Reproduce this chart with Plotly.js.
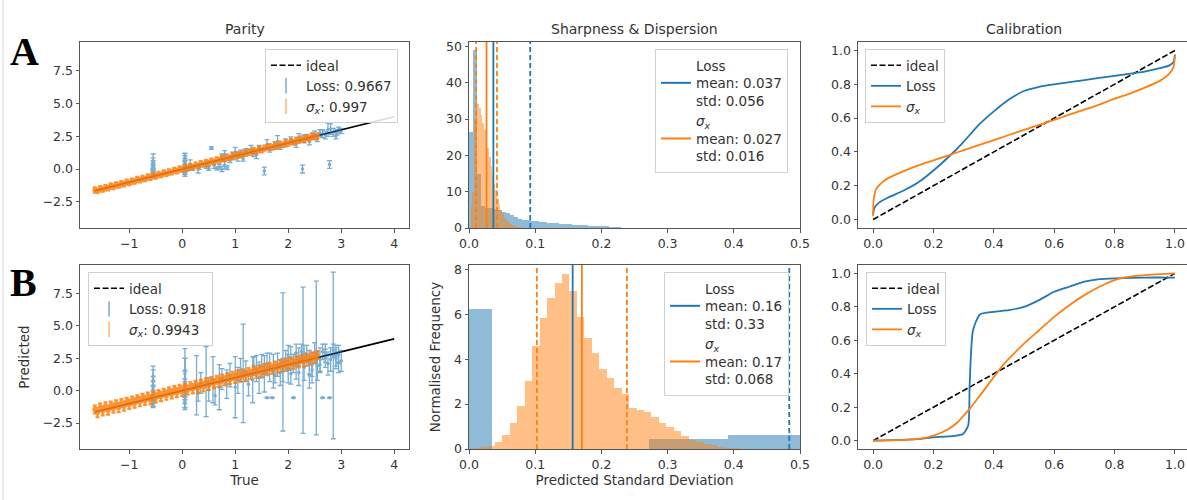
<!DOCTYPE html>
<html>
<head>
<meta charset="utf-8">
<script src="https://cdn.plot.ly/plotly-3.0.1.min.js"></script>
<style>html,body{margin:0;padding:0;background:#fff;}#chart{width:1187px;height:500px;}</style>
</head>
<body>
<div id="chart"></div>
<script>
// ---------------- DATA ----------------
const panelTitles = ["Parity", "Sharpness & Dispersion", "Calibration"];
const rowLabels = ["A", "B"];
const idealRange = [-1.65, 4];
const calibIdeal = [0, 1];

// Parity A - Loss (blue)
const aLossTrue = [-0.55,-0.55,-0.55,-0.55,-0.55,-0.55,-0.55,-0.55,-0.55,-0.55,
  0.05,0.05,0.05,0.05,0.05,0.05,0.05,0.05,0.05,0.05,
  0.3,0.32,0.45,0.5,0.55,0.6,0.65,0.7,0.75,0.8,0.85,0.75,0.8,0.9,0.95,1.0,1.05,1.1,1.15,1.2,
  1.3,1.35,1.45,1.55,1.6,1.65,1.75,1.8,1.85,1.95,2.05,2.15,2.27,2.3,2.4,2.5,2.55,2.65,2.75,2.78,
  2.85,2.9,2.95,3.0,2.2,1.4,0.15,0.2,2.6,2.7,2.8,2.92,2.45,2.35];
const aLossPred = [-0.5,-0.45,-0.3,-0.15,0.0,0.15,0.3,0.45,0.6,0.1,
  -0.4,-0.2,0.0,0.15,0.3,0.5,0.7,0.9,-0.1,0.6,
  0.0,0.1,0.2,0.05,1.6,0.3,0.05,0.15,0.0,0.3,0.1,0.9,1.1,0.7,1.0,1.3,0.9,1.2,0.8,1.35,
  1.5,1.2,1.6,-0.15,1.9,1.5,1.8,2.1,1.7,2.0,2.2,1.9,0.0,2.3,2.1,2.6,2.3,2.7,3.0,0.35,
  2.8,2.55,3.0,2.9,2.4,1.1,0.3,0.1,2.75,2.6,3.05,2.8,2.5,2.45];
const aLossErr = [0.12,0.2,0.2,0.25,0.3,0.3,0.35,0.4,0.55,0.2,
  0.15,0.2,0.2,0.25,0.3,0.3,0.35,0.3,0.2,0.6,
  0.3,0.15,0.15,0.15,0.1,0.25,0.12,0.2,0.2,0.3,0.15,0.25,0.3,0.2,0.3,0.35,0.3,0.25,0.2,0.2,
  0.3,0.25,0.2,0.3,0.35,0.2,0.3,0.45,0.2,0.3,0.25,0.25,0.3,0.3,0.25,0.3,0.2,0.3,0.5,0.3,
  0.3,0.25,0.2,0.2,0.3,0.3,0.4,0.2,0.25,0.3,0.4,0.2,0.25,0.2];

// Parity A - sigma_x (orange)
const aSigTrue = [-1.65,-1.6,-1.55,-1.5,-1.45,-1.4,-1.35,-1.3,-1.25,-1.2,-1.15,-1.1,-1.05,-1.0,-0.95,-0.9,-0.85,-0.8,-0.75,-0.7,
  -0.65,-0.6,-0.55,-0.5,-0.45,-0.4,-0.35,-0.3,-0.25,-0.2,-0.15,-0.1,-0.05,0.0,0.05,0.1,0.15,0.2,0.25,0.3,
  0.35,0.4,0.45,0.5,0.55,0.6,0.65,0.7,0.75,0.8,0.85,0.9,0.95,1.0,1.05,1.1,1.15,1.2,1.25,1.3,1.35,1.4,1.45,1.5,1.55,
  1.6,1.65,1.7,1.75,1.8,1.85,1.9,1.95,2.0,2.05,2.1,2.15,2.2,2.25,2.3,2.35,2.4,2.45,2.5,2.55];
const aSigPred = [-1.6,-1.66,-1.5,-1.55,-1.42,-1.46,-1.3,-1.36,-1.22,-1.25,-1.12,-1.16,-1.0,-1.06,-0.92,-0.95,-0.8,-0.86,-0.72,-0.76,
  -0.6,-0.66,-0.5,-0.56,-0.42,-0.45,-0.3,-0.36,-0.22,-0.25,-0.1,-0.16,0.0,-0.05,0.1,0.05,0.2,0.15,0.3,0.25,
  0.4,0.35,0.5,0.45,0.6,0.55,0.7,0.66,0.8,0.76,0.9,0.86,1.0,0.96,1.1,1.06,1.2,1.16,1.3,1.26,1.4,1.36,1.5,1.44,1.6,
  1.65,1.7,1.66,1.8,1.75,1.9,1.84,2.0,1.95,2.1,2.04,2.2,2.15,2.3,2.24,2.4,2.35,2.5,2.44,2.52];
const aSigErr = [0.2,0.16,0.2,0.17,0.2,0.16,0.2,0.17,0.2,0.16,0.2,0.17,0.2,0.16,0.2,0.17,0.2,0.16,0.2,0.17,
  0.2,0.16,0.2,0.17,0.2,0.16,0.2,0.17,0.2,0.16,0.2,0.17,0.2,0.16,0.2,0.17,0.2,0.16,0.2,0.17,
  0.2,0.16,0.2,0.17,0.2,0.16,0.2,0.17,0.2,0.16,0.2,0.17,0.2,0.16,0.2,0.17,0.2,0.16,0.2,0.17,0.2,0.16,0.2,0.17,0.2,
  0.16,0.2,0.17,0.2,0.16,0.2,0.17,0.2,0.16,0.2,0.17,0.2,0.16,0.2,0.17,0.2,0.16,0.2,0.17,0.2];

// Parity B - Loss (blue)
const bLossTrue = [-0.55,-0.55,-0.55,-0.55,-0.55,-0.55,-0.55,-0.55,
  0.05,0.05,0.05,0.05,0.05,0.05,0.05,0.05,
  0.27,0.3,0.35,0.45,0.5,0.58,0.62,0.7,0.75,0.84,0.9,1.0,1.05,1.15,1.2,1.25,1.33,1.4,1.45,1.5,
  1.55,1.6,1.65,1.7,1.72,1.8,1.85,1.9,1.95,2.0,2.05,2.1,2.15,2.2,2.28,2.3,2.35,2.4,2.45,2.53,
  2.6,2.65,2.7,2.75,2.78,2.85,2.9,2.95,3.0,2.5,2.1,1.75,2.0,2.25,2.85,2.6,
  1.6,1.9,2.2,2.45,2.7,2.95,2.55,2.8,2.3,2.05,1.35,1.1,2.65,2.9,2.4,2.15];
const bLossPred = [-0.8,-0.5,-0.2,0.1,0.4,0.8,1.1,-1.0,
  -0.7,-0.3,0.1,0.5,0.9,1.3,1.6,-0.9,
  0.42,-0.2,0.6,0.7,0.1,0.85,-0.4,0.27,0.9,0.5,1.2,0.27,0.8,1.33,1.5,0.5,0.85,1.7,1.0,1.9,
  1.3,-0.55,1.8,-0.55,1.5,2.0,1.4,2.22,2.3,1.7,2.5,-0.55,1.9,2.6,2.35,1.8,2.7,2.2,1.6,2.52,
  2.4,-0.55,2.9,2.1,-0.55,2.72,2.5,2.8,2.3,2.9,2.1,1.2,2.6,3.0,3.1,2.0,
  2.1,1.6,1.4,2.0,2.5,2.2,1.9,2.4,2.9,1.3,1.9,1.6,3.0,2.7,1.2,2.9];
const bLossErr = [0.4,0.5,0.6,0.6,0.7,0.8,0.8,0.3,
  0.6,0.7,0.8,1.0,2.35,1.2,0.9,0.4,
  2.28,0.6,0.8,2.7,0.9,1.78,0.7,1.74,0.8,1.1,0.9,2.36,1.0,3.8,0.8,0.9,1.78,1.0,1.2,0.9,
  1.4,0.03,1.1,0.03,1.3,0.9,1.0,5.33,0.8,1.1,0.9,0.03,1.0,0.7,5.65,1.0,0.8,0.9,1.0,5.93,
  0.9,0.03,0.7,0.9,0.03,6.43,0.8,0.7,0.8,0.8,0.7,0.6,0.9,0.6,0.5,0.6,
  0.8,0.9,1.0,0.9,0.7,0.8,1.1,0.9,0.6,0.8,0.7,0.9,0.6,0.8,1.0,0.7];

// Parity B - sigma_x (orange)
const bSigTrue = [-1.65,-1.6,-1.55,-1.5,-1.45,-1.4,-1.35,-1.3,-1.25,-1.2,-1.15,-1.1,-1.05,-1.0,-0.95,-0.9,-0.85,-0.8,-0.75,-0.7,
  -0.65,-0.6,-0.55,-0.5,-0.45,-0.4,-0.35,-0.3,-0.25,-0.2,-0.15,-0.1,-0.05,0.0,0.05,0.1,0.15,0.2,0.25,0.3,
  0.35,0.4,0.45,0.5,0.55,0.6,0.65,0.7,0.75,0.8,0.85,0.9,0.95,1.0,1.05,1.1,1.15,1.2,1.25,1.3,1.35,1.4,1.45,1.5,1.55,
  1.6,1.65,1.7,1.75,1.8,1.85,1.9,1.95,2.0,2.05,2.1,2.15,2.2,2.25,2.3,2.35,2.4,2.45,2.5,2.55];
const bSigPred = [-1.45,-1.7,-1.3,-1.55,-1.2,-1.5,-1.15,-1.35,-1.05,-1.3,-0.95,-1.2,-0.85,-1.05,-0.75,-0.95,-0.65,-0.85,-0.55,-0.75,
  -0.45,-0.7,-0.4,-0.55,-0.25,-0.45,-0.15,-0.35,-0.05,-0.25,0.05,-0.15,0.15,-0.05,0.25,0.05,0.35,0.15,0.45,0.2,
  0.55,0.3,0.65,0.4,0.75,0.55,0.85,0.65,0.95,0.75,1.05,0.85,1.15,0.95,1.25,1.05,1.35,1.15,1.45,1.25,1.55,1.35,1.65,1.45,1.75,
  1.55,1.85,1.65,1.95,1.75,2.05,1.85,2.15,1.95,2.25,2.05,2.35,2.15,2.45,2.25,2.55,2.35,2.65,2.5,2.75];
const bSigErr = [0.3,0.35,0.3,0.35,0.3,0.35,0.3,0.35,0.3,0.35,0.3,0.35,0.3,0.35,0.3,0.35,0.3,0.35,0.3,0.35,
  0.3,0.35,0.3,0.35,0.3,0.35,0.3,0.35,0.3,0.35,0.3,0.35,0.3,0.35,0.3,0.35,0.3,0.35,0.3,0.35,
  0.3,0.35,0.3,0.35,0.3,0.35,0.3,0.35,0.3,0.35,0.3,0.35,0.3,0.35,0.3,0.35,0.3,0.35,0.3,0.35,0.3,0.35,0.3,0.35,0.3,
  0.35,0.3,0.35,0.3,0.35,0.3,0.35,0.3,0.35,0.3,0.35,0.3,0.35,0.3,0.35,0.3,0.35,0.3,0.35,0.3];

const parityNames = {
  aLoss: "Loss: 0.9667", aSig: "<i>σ<sub>x</sub></i>: 0.997",
  bLoss: "Loss: 0.918",  bSig: "<i>σ<sub>x</sub></i>: 0.9943"
};

// Histogram A
const aLossBinStart = 0, aLossBinWidth = 0.0062;
const aLossHist = [26.5,49,15,6,5.5,5.5,5.2,5,4.5,4,3.5,3,2.6,2.3,2.1,1.9,1.8,1.7,1.6,1.5,
  1.4,1.3,1.2,1.1,1.0,0.9,0.85,0.8,0.7,0.65,0.6,0.55,0.5,0.45,0.4,0.35,0.3];
const aSigBinStart = 0.0025, aSigBinWidth = 0.0025;
const aSigHist = [6,10,30,35.5,34,33,31,29,27,24.5,22,19.5,17,14.5,12,10.5,8,6.5,5,4,
  3.2,2.5,2,1.5,1.2,0.9,0.7,0.5,0.35,0.25,0.15];
const aStats = {lossMean:0.0368, lossStd:0.0557, sigMean:0.0265, sigStd:0.0158};
const aHistNames = {
  loss: "Loss<br>mean: 0.037<br>std: 0.056",
  sig: "<i>σ<sub>x</sub></i><br>mean: 0.027<br>std: 0.016"
};

// Histogram B
const bLossBinStart = -0.085, bLossBinWidth = 0.119;
const bLossHist = [6.22,0,0,0.43,0.62];
const bSigBinStart = 0.0053, bSigBinWidth = 0.01126;
const bSigHist = [0.04,0.07,0.15,0.31,0.64,1.16,1.91,3.03,4.6,5.85,6.73,7.4,7.82,7.06,5.9,4.95,4.3,3.55,3.18,2.73,
  2.43,1.84,1.76,1.64,1.43,1.16,0.99,0.79,0.57,0.42,0.31,0.22,0.16,0.1,0.06,0.04,0.02,0.01];
const bStats = {lossMean:0.1566, lossStd:0.3272, sigMean:0.1705, sigStd:0.0680};
const bHistNames = {
  loss: "Loss<br>mean: 0.16<br>std: 0.33",
  sig: "<i>σ<sub>x</sub></i><br>mean: 0.17<br>std: 0.068"
};

// Calibration A
const aCalLossX = [0,0.005,0.02,0.05,0.1,0.15,0.2,0.25,0.3,0.35,0.4,0.45,0.5,0.55,0.6,0.7,0.8,0.86,0.9,0.95,0.98,0.995,1.0];
const aCalLossY = [0.03,0.07,0.1,0.13,0.17,0.22,0.29,0.37,0.46,0.56,0.64,0.71,0.76,0.785,0.8,0.825,0.85,0.865,0.875,0.895,0.91,0.93,0.975];
const aCalSigX = [0,0.002,0.01,0.03,0.05,0.1,0.15,0.2,0.25,0.3,0.35,0.4,0.45,0.5,0.55,0.6,0.65,0.7,0.75,0.8,0.85,0.9,0.95,0.98,0.995,1.0];
const aCalSigY = [0.02,0.12,0.18,0.22,0.245,0.285,0.32,0.35,0.38,0.41,0.44,0.47,0.5,0.53,0.56,0.59,0.62,0.65,0.68,0.715,0.745,0.78,0.82,0.86,0.9,0.97];

// Calibration B
const bCalLossX = [0,0.1,0.155,0.2,0.25,0.298,0.315,0.32,0.331,0.354,0.398,0.45,0.5,0.55,0.6,0.65,0.7,0.75,0.8,0.9,1.0];
const bCalLossY = [0,0.005,0.01,0.02,0.025,0.04,0.09,0.34,0.66,0.754,0.77,0.78,0.8,0.84,0.89,0.92,0.95,0.965,0.97,0.975,0.975];
const bCalSigX = [0,0.1,0.15,0.2,0.25,0.28,0.3,0.32,0.35,0.4,0.43,0.45,0.5,0.55,0.6,0.65,0.7,0.75,0.8,0.85,0.9,0.95,1.0];
const bCalSigY = [0,0.005,0.01,0.03,0.07,0.11,0.15,0.19,0.26,0.38,0.45,0.49,0.58,0.66,0.74,0.81,0.87,0.92,0.96,0.98,0.99,0.995,1.0];

// Tick labels
const parityXTicks = [-1,0,1,2,3,4];
const parityXText = ["\u22121","0","1","2","3","4"];
const parityYTicks = [-2.5,0,2.5,5,7.5];
const parityYText = ["\u22122.5","0.0","2.5","5.0","7.5"];
const histXTicks = [0,0.1,0.2,0.3,0.4,0.5];
const histXText = ["0.0","0.1","0.2","0.3","0.4","0.5"];
const histAYTicks = [0,10,20,30,40,50];
const histBYTicks = [0,2,4,6,8];
const calTicks = [0,0.2,0.4,0.6,0.8,1.0];
const calText = ["0.0","0.2","0.4","0.6","0.8","1.0"];

// ---------------- STYLE / LAYOUT ----------------
const BLUE = "#1f77b4", ORANGE = "#ff7f0e";
const W = 1187, H = 500;
const FONT = "DejaVu Sans, Liberation Sans, sans-serif";
const TICK = 12.5, LEG = 13.5, LAB = 13.5, TTL = 14;
const cols = [[80,409],[469,800],[858,1187]];
const rows = [[42,228],[265,449]];
const xd = c => [cols[c][0]/W, cols[c][1]/W];
const yd = r => [1-rows[r][1]/H, 1-rows[r][0]/H];

function axisBase(extra){
  return Object.assign({
    showline:true, mirror:true, linecolor:"#555", linewidth:1,
    ticks:"outside", ticklen:3.5, tickwidth:1, tickcolor:"#555",
    tickfont:{family:FONT, size:TICK, color:"#333"},
    showgrid:false, zeroline:false, automargin:false, fixedrange:true
  }, extra);
}

const traces = [];
function range(start, w, n){ const a=[]; for(let i=0;i<n;i++) a.push(start + i*w); return a; }

function parity(xa, ya, lg, lossT, lossP, lossE, sigT, sigP, sigE, lossName, sigName){
  traces.push({x:idealRange, y:idealRange, xaxis:xa, yaxis:ya, mode:"lines", line:{color:"#000", width:1.6}, showlegend:false, hoverinfo:"skip"});
  traces.push({x:lossT, y:lossP, xaxis:xa, yaxis:ya, mode:"markers", type:"scatter",
    marker:{color:BLUE, size:3.5}, opacity:0.6,
    error_y:{type:"data", array:lossE, visible:true, color:BLUE, thickness:1.3, width:2.5},
    showlegend:false, hoverinfo:"skip"});
  traces.push({x:sigT, y:sigP, xaxis:xa, yaxis:ya, mode:"markers", type:"scatter",
    marker:{color:ORANGE, size:5}, opacity:0.85,
    error_y:{type:"data", array:sigE, visible:true, color:ORANGE, thickness:2.2, width:2},
    showlegend:false, hoverinfo:"skip"});
  // legend entries
  traces.push({x:[null], y:[null], xaxis:xa, yaxis:ya, mode:"lines", name:"ideal", legend:lg,
    line:{color:"#000", width:1.6, dash:"6px,2.5px"}});
  traces.push({x:[null], y:[null], xaxis:xa, yaxis:ya, mode:"markers", name:lossName, legend:lg,
    marker:{symbol:"line-ns-open", size:11, color:BLUE, line:{color:BLUE, width:1.5}}, opacity:0.6});
  traces.push({x:[null], y:[null], xaxis:xa, yaxis:ya, mode:"markers", name:sigName, legend:lg,
    marker:{symbol:"line-ns-open", size:11, color:ORANGE, line:{color:ORANGE, width:1.5}}, opacity:0.6});
}

const shapes = [];
function hist(xa, ya, lg, lStart, lW, lH, sStart, sW, sH, stats, names){
  traces.push({type:"bar", x:range(lStart,lW,lH.length), y:lH, width:lW, offset:0, xaxis:xa, yaxis:ya,
    marker:{color:"rgba(31,119,180,0.5)", line:{width:0}}, showlegend:false, hoverinfo:"skip"});
  traces.push({type:"bar", x:range(sStart,sW,sH.length), y:sH, width:sW, offset:0, xaxis:xa, yaxis:ya,
    marker:{color:"rgba(255,127,14,0.5)", line:{width:0}}, showlegend:false, hoverinfo:"skip"});
  const lines = [
    [stats.lossMean, BLUE, "solid"], [stats.lossMean - stats.lossStd, BLUE, "5px,3px"], [stats.lossMean + stats.lossStd, BLUE, "5px,3px"],
    [stats.sigMean, ORANGE, "solid"], [stats.sigMean - stats.sigStd, ORANGE, "5px,3px"], [stats.sigMean + stats.sigStd, ORANGE, "5px,3px"]
  ];
  lines.forEach(([v,c,d]) => {
    if (v < 0 || v > 0.5) return;
    shapes.push({type:"line", xref:xa, yref:ya+" domain", x0:v, x1:v, y0:0, y1:1, line:{color:c, width:1.8, dash:d}, layer:"above"});
  });
  traces.push({x:[null], y:[null], xaxis:xa, yaxis:ya, mode:"lines", name:names.loss, legend:lg, line:{color:BLUE, width:2}});
  traces.push({x:[null], y:[null], xaxis:xa, yaxis:ya, mode:"lines", name:names.sig, legend:lg, line:{color:ORANGE, width:2}});
}

function calib(xa, ya, lg, lx, ly, sx, sy){
  traces.push({x:calibIdeal, y:calibIdeal, xaxis:xa, yaxis:ya, mode:"lines", name:"ideal", legend:lg,
    line:{color:"#000", width:1.6, dash:"6px,2.5px"}, hoverinfo:"skip"});
  traces.push({x:lx, y:ly, xaxis:xa, yaxis:ya, mode:"lines", name:"Loss", legend:lg,
    line:{color:BLUE, width:1.8, shape:"spline", smoothing:0.6}, hoverinfo:"skip"});
  traces.push({x:sx, y:sy, xaxis:xa, yaxis:ya, mode:"lines", name:"<i>σ<sub>x</sub></i>", legend:lg,
    line:{color:ORANGE, width:1.8, shape:"spline", smoothing:0.6}, hoverinfo:"skip"});
}

parity("x","y","legend", aLossTrue,aLossPred,aLossErr, aSigTrue,aSigPred,aSigErr, parityNames.aLoss, parityNames.aSig);
hist("x2","y2","legend2", aLossBinStart,aLossBinWidth,aLossHist, aSigBinStart,aSigBinWidth,aSigHist, aStats, aHistNames);
calib("x3","y3","legend3", aCalLossX,aCalLossY,aCalSigX,aCalSigY);
parity("x4","y4","legend4", bLossTrue,bLossPred,bLossErr, bSigTrue,bSigPred,bSigErr, parityNames.bLoss, parityNames.bSig);
hist("x5","y5","legend5", bLossBinStart,bLossBinWidth,bLossHist, bSigBinStart,bSigBinWidth,bSigHist, bStats, bHistNames);
calib("x6","y6","legend6", bCalLossX,bCalLossY,bCalSigX,bCalSigY);

const parX = {range:[-1.93,4.28], tickvals:parityXTicks, ticktext:parityXText};
const parY = {range:[-4.5,9.7], tickvals:parityYTicks, ticktext:parityYText};
const hX = {range:[0,0.5], tickvals:histXTicks, ticktext:histXText};
const cX = {range:[-0.05,1.04], tickvals:calTicks, ticktext:calText};
const cY = {range:[-0.05,1.05], tickvals:calTicks, ticktext:calText};
const titleFont = {family:FONT, size:LAB, color:"#333"};

function legendAt(px, py){
  return {x:px/W, y:1-py/H, xanchor:"left", yanchor:"top", bgcolor:"rgba(255,255,255,0.85)",
    bordercolor:"#d0d0d0", borderwidth:1, font:{family:FONT, size:LEG, color:"#333"},
    itemwidth:30, tracegroupgap:4, valign:"middle"};
}

function titleAnn(text, cx){
  return {text:text, x:cx/W, y:1-29/H, xref:"paper", yref:"paper", xanchor:"center", yanchor:"middle",
    showarrow:false, font:{family:FONT, size:TTL, color:"#333"}};
}

const layout = {
  width:W, height:H, margin:{l:0,r:0,t:0,b:0}, paper_bgcolor:"#fff", plot_bgcolor:"#fff",
  font:{family:FONT, size:12, color:"#333"},
  barmode:"overlay", bargap:0, showlegend:true,
  xaxis:  axisBase(Object.assign({domain:xd(0), anchor:"y"}, parX)),
  yaxis:  axisBase(Object.assign({domain:yd(0), anchor:"x"}, parY)),
  xaxis2: axisBase(Object.assign({domain:xd(1), anchor:"y2"}, hX)),
  yaxis2: axisBase({domain:yd(0), anchor:"x2", range:[0,51.2], tickvals:histAYTicks}),
  xaxis3: axisBase(Object.assign({domain:xd(2), anchor:"y3"}, cX)),
  yaxis3: axisBase(Object.assign({domain:yd(0), anchor:"x3"}, cY)),
  xaxis4: axisBase(Object.assign({domain:xd(0), anchor:"y4", title:{text:"True", font:titleFont, standoff:5}}, parX)),
  yaxis4: axisBase(Object.assign({domain:yd(1), anchor:"x4", title:{text:"Predicted", font:titleFont, standoff:9}}, parY)),
  xaxis5: axisBase(Object.assign({domain:xd(1), anchor:"y5", title:{text:"Predicted Standard Deviation", font:titleFont, standoff:5}}, hX)),
  yaxis5: axisBase({domain:yd(1), anchor:"x5", range:[0,8.2], tickvals:histBYTicks, title:{text:"Normalised Frequency", font:titleFont, standoff:10}}),
  xaxis6: axisBase(Object.assign({domain:xd(2), anchor:"y6"}, cX)),
  yaxis6: axisBase(Object.assign({domain:yd(1), anchor:"x6"}, cY)),
  legend:  legendAt(265, 49),
  legend2: legendAt(655, 49),
  legend3: legendAt(865, 49),
  legend4: legendAt(88, 272),
  legend5: legendAt(664, 272),
  legend6: legendAt(866, 272),
  shapes: shapes.concat([{type:"line", xref:"paper", yref:"paper", x0:3/W, x1:3/W, y0:0, y1:1, line:{color:"#d8d8d8", width:1}}]),
  annotations: [
    titleAnn(panelTitles[0], (cols[0][0]+cols[0][1])/2),
    titleAnn(panelTitles[1], (cols[1][0]+cols[1][1])/2),
    titleAnn(panelTitles[2], (858+1190)/2),
    {text:"<b>"+rowLabels[0]+"</b>", x:8/W, y:1-52/H, xref:"paper", yref:"paper", xanchor:"left", yanchor:"middle", showarrow:false, font:{family:"Liberation Serif, Times New Roman, serif", size:40, color:"#000"}},
    {text:"<b>"+rowLabels[1]+"</b>", x:8/W, y:1-282/H, xref:"paper", yref:"paper", xanchor:"left", yanchor:"middle", showarrow:false, font:{family:"Liberation Serif, Times New Roman, serif", size:40, color:"#000"}}
  ]
};

Plotly.newPlot("chart", traces, layout, {displayModeBar:false, staticPlot:true});
</script>
</body>
</html>
